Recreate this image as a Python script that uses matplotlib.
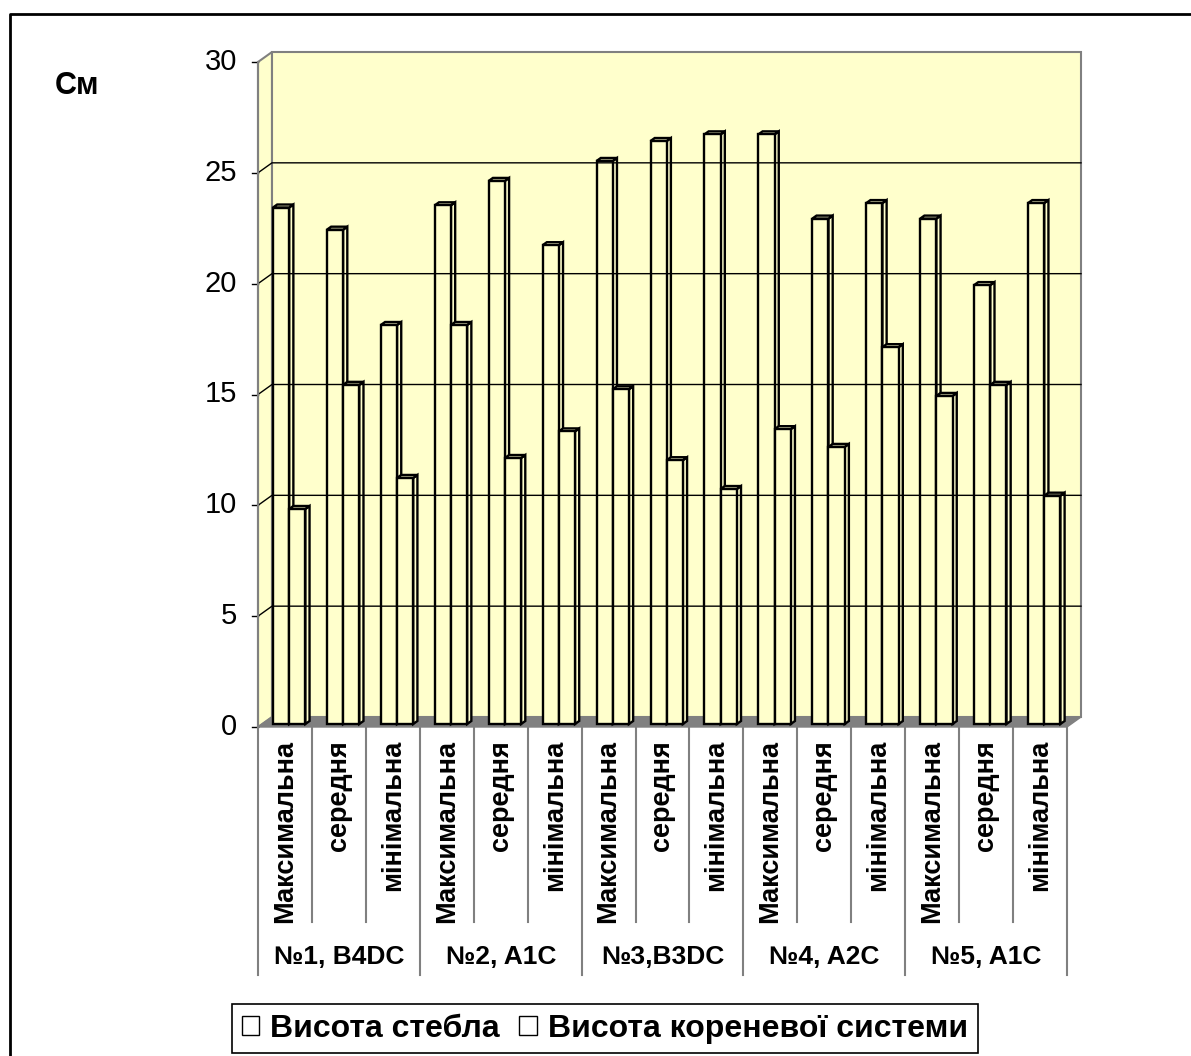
import matplotlib
matplotlib.use("Agg")
import matplotlib.pyplot as plt
from matplotlib.patches import Polygon, Patch
from matplotlib.lines import Line2D

plt.rcParams['font.family'] = ['Liberation Sans', 'DejaVu Sans']

# Heights, cm: stem and root system for each sample
categories = ['Максимальна', 'середня', 'мінімальна'] * 5
groups = ['№1, B4DC', '№2, A1C', '№3,B3DC', '№4, A2C', '№5, A1C']
stem = [23.3, 22.3, 18.0, 23.4, 24.5, 21.6, 25.4, 26.3, 26.6, 26.6, 22.8, 23.5, 22.8, 19.8, 23.5]
root = [9.7, 15.3, 11.1, 18.0, 12.0, 13.2, 15.1, 11.9, 10.6, 13.3, 12.5, 17.0, 14.8, 15.3, 10.3]
series_names = ['Висота стебла', 'Висота кореневої системи']
yticks = [0, 5, 10, 15, 20, 25, 30]

W, H = 1191, 1056
fig = plt.figure(figsize=(W / 100, H / 100), dpi=100)
ax = fig.add_axes([258 / W, 329 / H, 809 / W, 665 / H])
n = len(categories)
ax.set_xlim(0, n)
ax.set_ylim(0, 30)
ax.axis('off')

# pixel sizes of one unit, used for the 3-d depth offsets
px_x = 809 / n
px_y = 665 / 30
DX, DY = 14 / px_x, 10 / px_y


def proj(x, y, d):
    return (x + d * DX, y + d * DY)


wall = '#FFFFCC'
edge = '#808080'

# side wall, back wall, floor
side = [proj(0, 0, 0), proj(0, 0, 1), proj(0, 30, 1), proj(0, 30, 0)]
back = [proj(0, 0, 1), proj(n, 0, 1), proj(n, 30, 1), proj(0, 30, 1)]
floor = [proj(0, 0, 0), proj(n, 0, 0), proj(n, 0, 1), proj(0, 0, 1)]
ax.add_patch(Polygon(side, closed=True, fc=wall, ec=edge, lw=1.5, clip_on=False))
ax.add_patch(Polygon(back, closed=True, fc=wall, ec=edge, lw=1.5, clip_on=False))
ax.add_patch(Polygon(floor, closed=True, fc='#808080', ec=edge, lw=1, clip_on=False))

# gridlines on the walls
for v in yticks[1:-1]:
    p0, p1, p2 = proj(0, v, 0), proj(0, v, 1), proj(n, v, 1)
    ax.plot([p0[0], p1[0], p2[0]], [p0[1], p1[1], p2[1]], color='black', lw=1, clip_on=False)

# value axis ticks and labels
tick_len = 6 / px_x
for v in yticks:
    ax.plot([-tick_len, 0], [v, v], color='black', lw=1, clip_on=False)
    ax.text(-21 / px_x, v, str(v), ha='right', va='center', fontsize=21, clip_on=False)
ax.plot([0, 0], [0, 30], color=edge, lw=1.5, clip_on=False)


def bar3d(x0, x1, h, d0=0.3, d1=0.6):
    front = [proj(x0, 0, d0), proj(x1, 0, d0), proj(x1, h, d0), proj(x0, h, d0)]
    right = [proj(x1, 0, d0), proj(x1, 0, d1), proj(x1, h, d1), proj(x1, h, d0)]
    top = [proj(x0, h, d0), proj(x1, h, d0), proj(x1, h, d1), proj(x0, h, d1)]
    for face in (right, top, front):
        ax.add_patch(Polygon(face, closed=True, fc=wall, ec='black', lw=1.7,
                             joinstyle='miter', clip_on=False))


for i in range(n):
    bar3d(i + 0.2, i + 0.5, stem[i])
    bar3d(i + 0.5, i + 0.8, root[i])

# category axis: label cells and texts
inner_bottom = -(922 - 727) / px_y
outer_bottom = -(975 - 727) / px_y
for i in range(n + 1):
    bottom = outer_bottom if i % 3 == 0 else inner_bottom
    ax.plot([i, i], [0, bottom], color=edge, lw=1.5, clip_on=False)

for i, lab in enumerate(categories):
    ax.text(i + 0.5, -(740 - 727) / px_y, lab, rotation=90, ha='center', va='top',
            fontsize=19.5, fontweight='bold', clip_on=False)

for g, lab in enumerate(groups):
    ax.text(3 * g + 1.5, -(957 - 727) / px_y, lab, ha='center', va='center',
            fontsize=19, fontweight='bold', clip_on=False)

# unit label
fig.text(77 / W, 1 - 86 / H, 'См', ha='center', va='center', fontsize=22, fontweight='bold')

# outer frame (left and top edges)
fig.add_artist(Line2D([10 / W, 10 / W, 1], [0, 1 - 14 / H, 1 - 14 / H],
                      transform=fig.transFigure, color='black', lw=2))

handles = [Patch(facecolor='white', edgecolor='black', lw=1) for _ in series_names]
leg = fig.legend(handles, series_names, loc='upper left',
                 bbox_to_anchor=(232 / W, 1 - 1004 / H), borderaxespad=0,
                 ncol=2, fancybox=False, edgecolor='black', framealpha=1,
                 prop={'weight': 'bold', 'size': 23},
                 handlelength=0.55, handleheight=0.55, handletextpad=0.35,
                 columnspacing=0.6, borderpad=0.3)
leg.get_frame().set_linewidth(1.2)

fig.savefig('out.png', dpi=100)
